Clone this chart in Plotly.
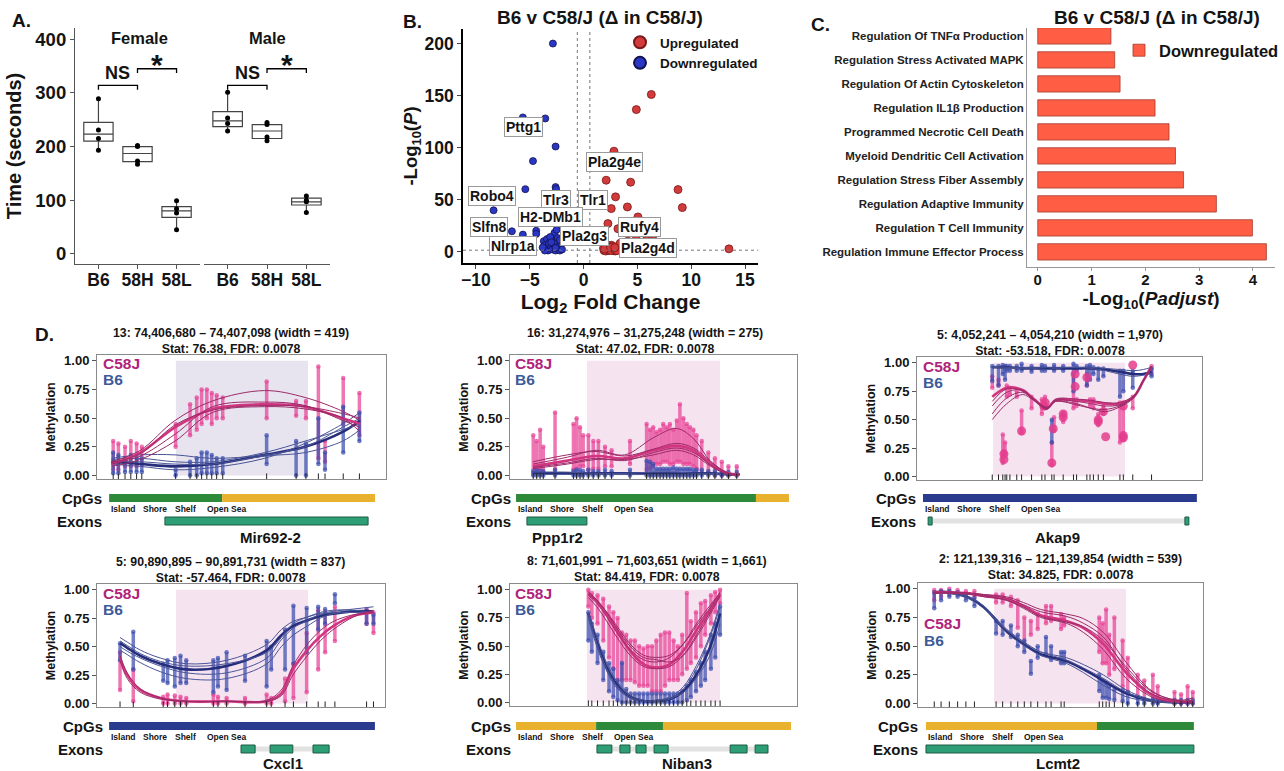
import plotly.graph_objects as go

W, H = 1284, 771
FONT = "Arial, 'Liberation Sans', Helvetica, sans-serif"
INK = "#141414"

# ---------------- Panel A : box plots ----------------
A_GROUPS = ["B6", "58H", "58L"]
A_F_Q1 = [210, 172, 68]
A_F_MED = [223, 187, 80]
A_F_Q3 = [245, 200, 88]
A_F_LO = [193, 167, 45]
A_F_HI = [289, 202, 99]
A_F_PTS = [[193, 215, 231, 289], [167, 173, 200, 202], [45, 76, 84, 99]]
A_M_Q1 = [237, 215, 91]
A_M_MED = [248, 229, 97]
A_M_Q3 = [265, 241, 104]
A_M_LO = [229, 211, 77]
A_M_HI = [301, 245, 108]
A_M_PTS = [[229, 243, 253, 301], [211, 218, 241, 245], [77, 97, 100, 108]]
A_BR_FROM = [0, 1]
A_BR_TO = [1, 2]
A_BR_Y = [314, 345]
A_BR_LABEL = ["NS", "*"]

# ---------------- Panel B : volcano ----------------
B_UP_X = [6.29, 4.9, 2.82, 2.1, 4.37, 8.77, 2.97, 2.57, 4.07, 9.17, 5.05, 2.26, 3.19, 6.5, 4.9, 5.83, 13.5,
          1.9, 2.1, 2.3, 2.5, 2.7, 2.9, 3.05, 2.0, 2.2, 2.4, 2.6, 2.8, 3.0, 2.15, 2.45, 2.75, 2.95, 2.35, 2.65, 3.4, 4.1,
          1.85, 2.05, 2.25, 2.55, 2.85, 3.1, 1.95, 2.5, 2.9]
B_UP_Y = [151, 136.5, 96.5, 68.6, 66.7, 59.6, 52.6, 41.3, 42.9, 42.3, 33.3, 26.9, 22, 16.3, 12, 11, 2.6,
          1.0, 2.5, 4.0, 5.5, 3.0, 1.5, 4.5, 5.0, 1.0, 2.0, 6.0, 0.8, 2.8, 6.5, 3.5, 4.8, 0.6, 1.2, 2.2, 8.0, 10.0,
          3.2, 0.5, 1.8, 0.9, 2.0, 1.0, 2.4, 4.2, 3.8]
B_DOWN_X = [-2.85, -5.64, -3.56, -2.6, -4.7, -5.41, -2.6, -2.55, -8.36, -2.54, -6.66, -5.64, -4.4, -4.4, -2.7, -2.5,
            -3.7, -3.6, -3.5, -3.4, -3.3, -3.2, -3.0, -2.9, -2.8, -2.7, -2.6, -2.5, -2.4, -2.3, -2.2, -2.1,
            -2.0, -3.6, -3.1, -2.4, -2.2, -3.8, -3.0, -2.6]
B_DOWN_Y = [200, 129, 128, 101, 87, 60, 62, 60, 39.7, 42, 19.5, 16.3, 20, 17, 18, 21,
            10, 6, 3, 12, 1, 8, 4, 2, 11, 6, 1, 9, 3, 5, 1, 7,
            2, 1, 14, 13, 11, 4, 9, 3.5]
B_FC_CUT = 0.58
B_P_CUT = 1.3
B_LABELS = ["Pttg1", "Pla2g4e", "Robo4", "Tlr3", "Tlr1", "H2-DMb1", "Slfn8", "Rufy4", "Pla2g3", "Nlrp1a", "Pla2g4d"]
B_LABEL_X = [-5.58, 2.88, -8.5, -2.54, 0.87, -3.1, -8.8, 5.2, 0.1, -6.6, 6.0]
B_LABEL_Y = [119.5, 86, 53, 50, 50, 33, 23.7, 24, 15.4, 5.8, 3.5]

# ---------------- Panel C : enrichment bars ----------------
C_TERMS = ["Regulation Immune Effector Process", "Regulation T Cell Immunity", "Regulation Adaptive Immunity",
           "Regulation Stress Fiber Assembly", "Myeloid Dendritic Cell Activation", "Programmed Necrotic Cell Death",
           "Regulation IL1β Production", "Regulation Of Actin Cytoskeleton", "Regulation Stress Activated MAPK",
           "Regulation Of TNFα Production"]
C_VALUES = [4.25, 3.99, 3.32, 2.71, 2.56, 2.44, 2.18, 1.53, 1.43, 1.36]

# ---------------- Panel D : DMR methylation plots ----------------
D1_TITLE = "13: 74,406,680 – 74,407,098 (width = 419)<br>Stat: 76.38, FDR: 0.0078"
D1_SHADE = [27.3, 73.0]
D1_CPG = [5.6, 7.4, 9.7, 11.7, 13.7, 15.5, 27.2, 32.2, 34.5, 36.2, 38.0, 39.7, 41.4, 43.5, 58.7, 68.9, 72.3, 76.6, 78.9, 85.2, 90.8]
D1_C58_LO = [0.05, 0.05, 0.08, 0.08, 0.08, 0.10, 0.25, 0.35, 0.40, 0.45, 0.50, 0.45, 0.50, 0.50, 0.50, 0.52, 0.50, 0.15, 0.12, 0.45, 0.35]
D1_C58_HI = [0.30, 0.28, 0.25, 0.30, 0.28, 0.25, 0.45, 0.62, 0.68, 0.75, 0.75, 0.72, 0.70, 0.68, 0.82, 0.65, 0.65, 0.95, 0.30, 0.85, 0.72]
D1_B6_LO = [0.02, 0.02, 0.03, 0.03, 0.03, 0.03, 0.00, 0.00, 0.00, 0.02, 0.02, 0.02, 0.02, 0.02, 0.10, 0.00, 0.00, 0.10, 0.05, 0.20, 0.30]
D1_B6_HI = [0.20, 0.18, 0.15, 0.18, 0.15, 0.15, 0.05, 0.12, 0.15, 0.20, 0.20, 0.18, 0.15, 0.15, 0.35, 0.30, 0.28, 0.50, 0.20, 0.60, 0.55]
D1_KNOTS = [5, 15, 27, 40, 58, 72, 85, 91]
D1_C58_LINES = [[0.10, 0.20, 0.42, 0.58, 0.62, 0.60, 0.50, 0.45],
                [0.12, 0.22, 0.48, 0.65, 0.74, 0.68, 0.56, 0.48],
                [0.08, 0.14, 0.30, 0.55, 0.60, 0.58, 0.50, 0.38],
                [0.10, 0.17, 0.36, 0.60, 0.64, 0.61, 0.48, 0.42],
                [0.11, 0.19, 0.44, 0.57, 0.61, 0.60, 0.54, 0.50]]
D1_B6_LINES = [[0.12, 0.10, 0.08, 0.10, 0.18, 0.25, 0.38, 0.48],
               [0.15, 0.18, 0.18, 0.15, 0.18, 0.25, 0.42, 0.50],
               [0.10, 0.08, 0.05, 0.07, 0.15, 0.28, 0.45, 0.55],
               [0.12, 0.12, 0.10, 0.10, 0.17, 0.20, 0.30, 0.40],
               [0.14, 0.15, 0.12, 0.12, 0.20, 0.30, 0.40, 0.45]]
D1_CPG_TRACK = [(4.2, 43.3, "green"), (43.3, 96.2, "yellow")]
D1_EXONS = [(23.5, 93.8)]
D1_INTRON = None
D1_GENE = "Mir692-2"

D2_TITLE = "16: 31,274,976 – 31,275,248 (width = 275)<br>Stat: 47.02, FDR: 0.0078"
D2_SHADE = [26.8, 73.2]
D2_CPG = [8.1, 9.3, 10.5, 11.6, 15.7, 22.1, 23.2, 24.4, 25.5, 27.3, 29.0, 30.8, 33.1, 35.4, 41.8, 47.6, 48.8, 49.9, 51.1,
          52.3, 53.4, 54.6, 55.7, 56.9, 58.1, 59.2, 60.4, 61.6, 62.7, 63.9, 65.0, 66.8, 69.1, 71.4, 73.8, 76.1, 79.0]
D2_C58_LO = [0.02, 0.03, 0.05, 0.03, 0.05, 0.05, 0.06, 0.08, 0.08, 0.05, 0.06, 0.06, 0.08, 0.08, 0.10, 0.05, 0.06, 0.08, 0.10,
             0.10, 0.12, 0.12, 0.10, 0.10, 0.12, 0.12, 0.10, 0.10, 0.10, 0.08, 0.06, 0.04, 0.02, 0.00, 0.00, 0.00, 0.00]
D2_C58_HI = [0.35, 0.30, 0.40, 0.25, 0.55, 0.45, 0.50, 0.42, 0.35, 0.35, 0.30, 0.30, 0.25, 0.22, 0.30, 0.45, 0.40, 0.42, 0.38,
             0.40, 0.45, 0.42, 0.45, 0.40, 0.48, 0.62, 0.50, 0.45, 0.42, 0.40, 0.35, 0.30, 0.20, 0.15, 0.12, 0.08, 0.08]
D2_B6_LO = [0.0] * 37
D2_B6_HI = [0.04, 0.05, 0.04, 0.04, 0.05, 0.04, 0.05, 0.05, 0.04, 0.05, 0.04, 0.04, 0.05, 0.04, 0.05, 0.13, 0.12, 0.10, 0.06,
            0.06, 0.06, 0.06, 0.06, 0.07, 0.06, 0.06, 0.06, 0.06, 0.06, 0.05, 0.05, 0.05, 0.04, 0.04, 0.03, 0.03, 0.03]
D2_KNOTS = [8, 20, 30, 40, 50, 58, 64, 70, 76, 80]
D2_C58_LINES = [[0.08, 0.13, 0.17, 0.15, 0.22, 0.26, 0.22, 0.10, 0.02, 0.01],
                [0.10, 0.16, 0.22, 0.18, 0.33, 0.41, 0.32, 0.12, 0.02, 0.01],
                [0.06, 0.10, 0.14, 0.14, 0.18, 0.22, 0.18, 0.08, 0.01, 0.01],
                [0.12, 0.18, 0.21, 0.17, 0.23, 0.28, 0.24, 0.12, 0.02, 0.01],
                [0.07, 0.11, 0.15, 0.13, 0.20, 0.24, 0.20, 0.09, 0.01, 0.01]]
D2_B6_LINES = [[0.02, 0.02, 0.02, 0.02, 0.02, 0.02, 0.02, 0.02, 0.01, 0.01],
               [0.01, 0.01, 0.01, 0.01, 0.01, 0.01, 0.01, 0.01, 0.01, 0.01],
               [0.03, 0.03, 0.02, 0.02, 0.03, 0.03, 0.02, 0.02, 0.01, 0.01]]
D2_CPG_TRACK = [(2.1, 85.7, "green"), (85.7, 97.2, "yellow")]
D2_EXONS = [(5.9, 26.8)]
D2_INTRON = None
D2_GENE = "Ppp1r2"

D3_TITLE = "5: 4,052,241 – 4,054,210 (width = 1,970)<br>Stat: -53.518, FDR: 0.0078"
D3_SHADE = [26.7, 73.0]
D3_CPG = [26.4, 28.6, 30.1, 30.9, 31.5, 32.6, 35.0, 36.7, 40.2, 43.8, 44.9, 47.3, 48.1, 51.3, 54.9, 56.0, 59.6, 60.7, 61.9,
          63.6, 65.4, 71.2, 72.4, 75.7, 82.3]
D3_C58_LO = [0.78, 0.80, 0.12, 0.20, 0.70, 0.72, 0.70, 0.38, 0.60, 0.55, 0.60, 0.10, 0.40, 0.48, 0.60, 0.62, 0.80, 0.62, 0.60,
             0.45, 0.55, 0.30, 0.32, 0.60, 0.90]
D3_C58_HI = [0.88, 0.85, 0.37, 0.30, 0.80, 0.78, 0.75, 0.58, 0.70, 0.68, 0.70, 0.30, 0.52, 0.56, 0.90, 0.68, 0.90, 0.68, 0.68,
             0.55, 0.62, 0.65, 0.65, 0.70, 0.97]
D3_B6_LO = [0.84, 0.80, 0.90, 0.85, 0.93, 0.93, 0.93, 0.93, 0.92, 0.93, 0.93, 0.30, 0.93, 0.93, 0.75, 0.93, 0.80, 0.85, 0.90,
            0.85, 0.88, 0.70, 0.75, 0.78, 0.88]
D3_B6_HI = [0.97, 0.97, 0.98, 0.97, 0.97, 0.97, 0.97, 0.99, 0.97, 0.98, 0.97, 0.50, 0.98, 0.97, 0.99, 0.97, 0.97, 0.98, 0.96,
            0.95, 0.95, 0.93, 0.93, 0.93, 0.95]
D3_DOT_X = [30.5, 30.5, 36.7, 44.5, 45.0, 47.8, 51.3, 51.3, 55.5, 55.5, 59.6, 63.6, 63.6, 65.4, 66.2, 72.4, 72.4, 72.4, 75.7, 47.3]
D3_DOT_Y = [0.15, 0.20, 0.40, 0.62, 0.65, 0.42, 0.52, 0.55, 0.90, 0.79, 0.87, 0.48, 0.50, 0.57, 0.35, 0.62, 0.34, 0.36, 0.98, 0.12]
D3_KNOTS = [26.4, 31.5, 37, 41, 45.6, 48.6, 56, 61, 66, 71, 76, 79.4, 82.3]
D3_C58_LINES = [[0.70, 0.78, 0.76, 0.68, 0.60, 0.67, 0.67, 0.66, 0.64, 0.64, 0.70, 0.84, 0.97],
                [0.62, 0.74, 0.76, 0.68, 0.60, 0.67, 0.66, 0.64, 0.62, 0.63, 0.70, 0.84, 0.97],
                [0.55, 0.69, 0.74, 0.68, 0.60, 0.66, 0.64, 0.60, 0.57, 0.61, 0.69, 0.84, 0.97],
                [0.50, 0.64, 0.72, 0.67, 0.61, 0.66, 0.63, 0.60, 0.59, 0.62, 0.70, 0.85, 0.97],
                [0.66, 0.77, 0.75, 0.67, 0.59, 0.68, 0.68, 0.67, 0.65, 0.65, 0.71, 0.84, 0.96]]
D3_B6_LINES = [[0.96, 0.96, 0.95, 0.95, 0.95, 0.95, 0.95, 0.95, 0.94, 0.92, 0.90, 0.90, 0.92],
               [0.96, 0.95, 0.95, 0.95, 0.94, 0.95, 0.96, 0.95, 0.93, 0.90, 0.88, 0.89, 0.90],
               [0.97, 0.96, 0.96, 0.96, 0.96, 0.96, 0.96, 0.96, 0.95, 0.94, 0.93, 0.94, 0.96]]
D3_CPG_TRACK = [(2.1, 98.2, "blue")]
D3_EXONS = [(3.9, 5.3), (94.0, 95.4)]
D3_INTRON = (3.9, 95.4)
D3_GENE = "Akap9"

D4_TITLE = "5: 90,890,895 – 90,891,731 (width = 837)<br>Stat: -57.464, FDR: 0.0078"
D4_SHADE = [27.4, 73.3]
D4_CPG = [8.0, 12.6, 23.0, 24.5, 27.0, 29.0, 31.0, 40.4, 42.0, 45.0, 51.4, 58.9, 60.5, 65.3, 68.2, 72.8, 76.8, 79.2, 82.6, 93.6, 96.0]
D4_C58_LO = [0.12, 0.02, 0.0, 0.0, 0.0, 0.0, 0.0, 0.0, 0.0, 0.0, 0.0, 0.0, 0.0, 0.02, 0.05, 0.10, 0.30, 0.45, 0.55, 0.70, 0.62]
D4_C58_HI = [0.45, 0.30, 0.06, 0.08, 0.07, 0.06, 0.05, 0.08, 0.06, 0.05, 0.05, 0.08, 0.05, 0.22, 0.35, 0.62, 0.82, 0.80, 0.85, 0.83, 0.80]
D4_B6_LO = [0.38, 0.30, 0.20, 0.18, 0.15, 0.18, 0.18, 0.10, 0.15, 0.12, 0.20, 0.15, 0.30, 0.30, 0.35, 0.45, 0.65, 0.70, 0.88, 0.70, 0.70]
D4_B6_HI = [0.53, 0.63, 0.35, 0.38, 0.40, 0.42, 0.38, 0.38, 0.40, 0.45, 0.42, 0.55, 0.50, 0.65, 0.86, 0.84, 0.85, 0.83, 0.96, 0.82, 0.78]
D4_KNOTS = [8, 10.5, 15, 22, 31, 45, 59, 64, 68, 73, 77.5, 82, 89, 96]
D4_C58_LINES = [[0.40, 0.25, 0.12, 0.05, 0.02, 0.02, 0.02, 0.09, 0.30, 0.47, 0.59, 0.68, 0.77, 0.80],
                [0.38, 0.22, 0.10, 0.04, 0.02, 0.02, 0.03, 0.12, 0.33, 0.52, 0.64, 0.72, 0.78, 0.80],
                [0.42, 0.27, 0.13, 0.05, 0.02, 0.02, 0.02, 0.07, 0.25, 0.42, 0.55, 0.65, 0.76, 0.82]]
D4_B6_LINES = [[0.53, 0.49, 0.42, 0.35, 0.30, 0.33, 0.47, 0.60, 0.68, 0.73, 0.77, 0.79, 0.81, 0.81],
               [0.58, 0.54, 0.47, 0.40, 0.35, 0.38, 0.52, 0.65, 0.72, 0.76, 0.79, 0.81, 0.83, 0.85],
               [0.47, 0.43, 0.36, 0.28, 0.22, 0.22, 0.35, 0.50, 0.60, 0.68, 0.75, 0.79, 0.80, 0.80],
               [0.50, 0.46, 0.40, 0.33, 0.27, 0.27, 0.40, 0.56, 0.66, 0.73, 0.78, 0.80, 0.80, 0.79],
               [0.55, 0.51, 0.44, 0.37, 0.33, 0.35, 0.45, 0.58, 0.70, 0.76, 0.80, 0.82, 0.82, 0.80]]
D4_CPG_TRACK = [(4.2, 96.5, "blue")]
D4_EXONS = [(50.0, 54.9), (60.1, 68.0), (75.0, 80.6)]
D4_INTRON = (50.0, 80.6)
D4_GENE = "Cxcl1"

D5_TITLE = "8: 71,601,991 – 71,603,651 (width = 1,661)<br>Stat: 84.419, FDR: 0.0078"
D5_SHADE = [26.8, 73.2]
D5_CPG = [27.3, 28.5, 30.5, 32.5, 34.5, 36.0, 37.5, 39.0, 40.5, 42.0, 43.5, 45.0, 46.5, 48.0, 49.5, 51.0, 52.5, 54.0, 55.5,
          57.0, 58.5, 60.0, 61.6, 63.0, 64.8, 66.5, 68.0, 70.0, 71.5, 73.2]
D5_C58_LO = [0.85, 0.75, 0.70, 0.55, 0.40, 0.30, 0.15, 0.20, 0.20, 0.20, 0.18, 0.15, 0.15, 0.15, 0.10, 0.10, 0.10, 0.15, 0.20,
             0.20, 0.20, 0.25, 0.30, 0.35, 0.40, 0.50, 0.60, 0.70, 0.80, 0.88]
D5_C58_HI = [1.00, 0.97, 0.95, 0.92, 0.85, 0.80, 0.75, 0.62, 0.60, 0.55, 0.55, 0.50, 0.48, 0.50, 0.50, 0.55, 0.60, 0.62, 0.62,
             0.55, 0.50, 0.60, 0.97, 0.72, 0.80, 0.88, 0.90, 0.95, 0.98, 1.00]
D5_B6_LO = [0.55, 0.45, 0.35, 0.20, 0.10, 0.05, 0.02, 0.00, 0.00, 0.00, 0.00, 0.00, 0.00, 0.00, 0.00, 0.00, 0.00, 0.00, 0.00,
            0.00, 0.00, 0.00, 0.02, 0.05, 0.10, 0.15, 0.20, 0.30, 0.40, 0.60]
D5_B6_HI = [0.80, 0.70, 0.60, 0.45, 0.35, 0.30, 0.20, 0.35, 0.12, 0.08, 0.08, 0.08, 0.08, 0.08, 0.08, 0.08, 0.08, 0.08, 0.08,
            0.08, 0.08, 0.10, 0.15, 0.20, 0.27, 0.35, 0.45, 0.60, 0.70, 0.85]
D5_KNOTS = [27.3, 30.2, 33.7, 37.2, 41.8, 46.5, 51.1, 55.7, 60.4, 65, 69.7, 73.2]
D5_C58_LINES = [[0.97, 0.90, 0.78, 0.64, 0.46, 0.34, 0.31, 0.34, 0.46, 0.64, 0.82, 0.96],
                [0.95, 0.88, 0.76, 0.62, 0.47, 0.38, 0.36, 0.40, 0.52, 0.70, 0.86, 0.97],
                [0.98, 0.91, 0.80, 0.66, 0.50, 0.40, 0.38, 0.36, 0.42, 0.58, 0.78, 0.94],
                [0.93, 0.85, 0.72, 0.58, 0.42, 0.32, 0.30, 0.32, 0.42, 0.60, 0.80, 0.95],
                [0.96, 0.90, 0.80, 0.68, 0.52, 0.42, 0.40, 0.42, 0.52, 0.68, 0.84, 0.98]]
D5_B6_LINES = [[0.79, 0.55, 0.31, 0.16, 0.05, 0.015, 0.015, 0.03, 0.10, 0.25, 0.49, 0.79],
               [0.75, 0.50, 0.28, 0.13, 0.04, 0.01, 0.01, 0.03, 0.12, 0.30, 0.58, 0.85],
               [0.80, 0.58, 0.35, 0.19, 0.07, 0.02, 0.02, 0.04, 0.09, 0.22, 0.42, 0.70],
               [0.78, 0.53, 0.30, 0.15, 0.05, 0.01, 0.02, 0.05, 0.14, 0.33, 0.60, 0.88]]
D5_CPG_TRACK = [(2.1, 30.0, "yellow"), (30.0, 53.3, "green"), (53.3, 97.9, "yellow")]
D5_EXONS = [(30.3, 35.5), (38.3, 41.8), (43.9, 47.4), (50.2, 55.1), (76.7, 82.6), (85.4, 89.9)]
D5_INTRON = (30.3, 89.9)
D5_GENE = "Niban3"

D6_TITLE = "2: 121,139,316 – 121,139,854 (width = 539)<br>Stat: 34.825, FDR: 0.0078"
D6_SHADE = [26.7, 73.0]
D6_CPG = [5.7, 8.1, 11.0, 13.9, 16.8, 19.8, 27.4, 29.7, 32.6, 35.0, 37.3, 39.6, 42.0, 44.9, 46.7, 50.2, 51.3, 63.6, 64.8,
          66.0, 67.1, 68.9, 71.8, 73.6, 77.1, 79.4, 82.4, 84.1, 90.0, 92.3, 94.6, 96.4]
D6_C58_LO = [0.90, 0.93, 0.95, 0.95, 0.94, 0.93, 0.88, 0.88, 0.85, 0.66, 0.52, 0.60, 0.65, 0.70, 0.72, 0.65, 0.68, 0.45, 0.35,
             0.35, 0.25, 0.30, 0.15, 0.10, 0.05, 0.03, 0.02, 0.01, 0.0, 0.0, 0.0, 0.0]
D6_C58_HI = [0.99, 0.99, 1.00, 0.99, 0.98, 0.98, 0.95, 0.95, 0.93, 0.90, 0.75, 0.72, 0.78, 0.85, 0.85, 0.78, 0.75, 0.75, 0.70,
             0.82, 0.60, 0.75, 0.55, 0.40, 0.25, 0.20, 0.25, 0.15, 0.10, 0.08, 0.15, 0.10]
D6_B6_LO = [0.83, 0.90, 0.93, 0.93, 0.90, 0.85, 0.61, 0.60, 0.58, 0.50, 0.45, 0.26, 0.40, 0.43, 0.38, 0.35, 0.35, 0.11, 0.05,
            0.05, 0.04, 0.03, 0.02, 0.0, 0.0, 0.0, 0.0, 0.0, 0.0, 0.0, 0.0, 0.0]
D6_B6_HI = [0.97, 0.98, 0.98, 0.97, 0.95, 0.92, 0.72, 0.72, 0.68, 0.60, 0.55, 0.37, 0.50, 0.58, 0.50, 0.45, 0.45, 0.25, 0.20,
            0.18, 0.15, 0.12, 0.12, 0.10, 0.05, 0.04, 0.04, 0.03, 0.03, 0.03, 0.03, 0.03]
D6_KNOTS = [5.3, 11, 18, 23, 31, 37, 43, 52, 58, 65, 73, 81, 87, 93, 96.5]
D6_C58_LINES = [[0.97, 0.97, 0.96, 0.94, 0.91, 0.85, 0.77, 0.72, 0.66, 0.52, 0.27, 0.09, 0.03, 0.015, 0.015],
                [0.96, 0.97, 0.96, 0.95, 0.93, 0.88, 0.82, 0.78, 0.74, 0.62, 0.36, 0.13, 0.05, 0.02, 0.02],
                [0.97, 0.97, 0.96, 0.94, 0.90, 0.83, 0.75, 0.70, 0.62, 0.47, 0.22, 0.07, 0.02, 0.01, 0.01],
                [0.96, 0.96, 0.95, 0.93, 0.90, 0.84, 0.76, 0.71, 0.67, 0.55, 0.32, 0.12, 0.05, 0.03, 0.05],
                [0.97, 0.97, 0.96, 0.95, 0.92, 0.86, 0.80, 0.76, 0.70, 0.58, 0.30, 0.10, 0.04, 0.02, 0.03]]
D6_B6_LINES = [[0.97, 0.97, 0.92, 0.84, 0.63, 0.52, 0.43, 0.37, 0.30, 0.20, 0.09, 0.03, 0.015, 0.01, 0.01],
               [0.97, 0.96, 0.91, 0.83, 0.64, 0.53, 0.45, 0.40, 0.34, 0.25, 0.12, 0.04, 0.02, 0.01, 0.01],
               [0.96, 0.96, 0.92, 0.85, 0.65, 0.54, 0.45, 0.38, 0.31, 0.22, 0.10, 0.03, 0.02, 0.01, 0.01],
               [0.97, 0.97, 0.93, 0.85, 0.62, 0.51, 0.42, 0.35, 0.27, 0.16, 0.06, 0.02, 0.01, 0.01, 0.01]]
D6_CPG_TRACK = [(2.8, 62.8, "yellow"), (62.8, 96.8, "green")]
D6_EXONS = [(2.8, 96.8)]
D6_INTRON = None
D6_GENE = "Lcmt2"

Y_TICKS_D = [0, 0.25, 0.5, 0.75, 1.0]
Y_TICKTEXT_D = ["0.00", "0.25", "0.50", "0.75", "1.00"]
CPG_REGION_NAMES = ["Island", "Shore", "Shelf", "Open Sea"]

# ======================================================================
def fx(p):
    return p / W


def fy(p):
    return 1 - p / H


def fnt(size, bold=True, color=INK):
    return dict(family=FONT, size=size, color=color, weight="bold" if bold else "normal")


annotations, shapes = [], []


def text(t, x, y, size, bold=True, color=INK, xanchor="center", yanchor="middle", **kw):
    annotations.append(dict(text=t, x=fx(x), y=fy(y), xref="paper", yref="paper", showarrow=False,
                            xanchor=xanchor, yanchor=yanchor, font=fnt(size, bold, color), **kw))


fig = go.Figure()
layout = dict(width=W, height=H, margin=dict(l=0, r=0, t=0, b=0, autoexpand=False), paper_bgcolor="white",
              plot_bgcolor="white", font=dict(family=FONT, color=INK), hovermode=False)

# ---------------- Panel A ----------------
for ax, q1, med, q3, lo, hi, pts in [("x", A_F_Q1, A_F_MED, A_F_Q3, A_F_LO, A_F_HI, A_F_PTS),
                                     ("x2", A_M_Q1, A_M_MED, A_M_Q3, A_M_LO, A_M_HI, A_M_PTS)]:
    fig.add_trace(go.Box(x=A_GROUPS, q1=q1, median=med, q3=q3, lowerfence=lo, upperfence=hi,
                         xaxis=ax, yaxis="y", boxpoints=False, fillcolor="white", width=0.75,
                         line=dict(color="#444", width=1.2), whiskerwidth=0, showlegend=False))
    xs, ys = [], []
    for g, p in zip(A_GROUPS, pts):
        xs += [g] * len(p)
        ys += p
    fig.add_trace(go.Scatter(x=xs, y=ys, mode="markers", marker=dict(color="black", size=5),
                             xaxis=ax, yaxis="y", showlegend=False))
    for f, t, yb, lab in zip(A_BR_FROM, A_BR_TO, A_BR_Y, A_BR_LABEL):
        fig.add_trace(go.Scatter(x=[A_GROUPS[f], A_GROUPS[f], A_GROUPS[t], A_GROUPS[t]],
                                 y=[yb - 8, yb, yb, yb - 8], mode="lines",
                                 line=dict(color="black", width=1.3), xaxis=ax, yaxis="y", showlegend=False))
        big = lab == "*"
        annotations.append(dict(text=lab, x=(f + t) / 2, y=yb, xref=ax, yref="y", showarrow=False,
                                xanchor="center", yanchor="bottom", yshift=-14 if big else 0,
                                font=fnt(30 if big else 18)))

axA = dict(type="category", categoryorder="array", categoryarray=A_GROUPS, range=[-0.6, 2.6],
           showline=True, linecolor="#555", linewidth=1.2, ticks="outside", ticklen=4, tickcolor="#555",
           tickfont=fnt(17.5), showgrid=False, zeroline=False, anchor="y", ticklabelstandoff=-4)
layout["xaxis"] = dict(axA, domain=[fx(75), fx(200)])
layout["xaxis2"] = dict(axA, domain=[fx(204), fx(330)])
layout["yaxis"] = dict(domain=[fy(264), fy(28)], anchor="x", range=[-19, 421], tickvals=[0, 100, 200, 300, 400],
                       showline=True, linecolor="#555", linewidth=1.2, ticks="outside", ticklen=4,
                       tickcolor="#555", tickfont=fnt(18.5), showgrid=False, zeroline=False,
                       title=dict(text="Time (seconds)", font=fnt(20), standoff=8))
text("Female", 139, 38, 16.5)
text("Male", 267, 38, 16.5)
text("A.", 10, 20, 19, xanchor="left")

# ---------------- Panel B ----------------
fig.add_trace(go.Scatter(x=B_UP_X, y=B_UP_Y, mode="markers", name="Upregulated",
                         marker=dict(color="#D23B3B", size=8, line=dict(color="#7A1717", width=0.8)),
                         xaxis="x3", yaxis="y3", legend="legend"))
fig.add_trace(go.Scatter(x=B_DOWN_X, y=B_DOWN_Y, mode="markers", name="Downregulated",
                         marker=dict(color="#2A36C4", size=7, line=dict(color="#12124E", width=0.8)),
                         xaxis="x3", yaxis="y3", legend="legend"))
for xv in (-B_FC_CUT, B_FC_CUT):
    shapes.append(dict(type="line", xref="x3", yref="y3 domain", x0=xv, x1=xv, y0=0, y1=1,
                       line=dict(color="#777", width=1, dash="dot")))
shapes.append(dict(type="line", xref="x3 domain", yref="y3", x0=0, x1=1, y0=B_P_CUT, y1=B_P_CUT,
                   line=dict(color="#777", width=1, dash="dot")))
for lab, lx, ly in zip(B_LABELS, B_LABEL_X, B_LABEL_Y):
    annotations.append(dict(text=lab, x=lx, y=ly, xref="x3", yref="y3", showarrow=False,
                            font=fnt(14), bgcolor="white", bordercolor="#9a9a9a", borderwidth=1, borderpad=1))
layout["xaxis3"] = dict(domain=[fx(463), fx(758)], anchor="y3", range=[-11.2, 16.2],
                        tickvals=[-10, -5, 0, 5, 10, 15], showline=True, linecolor="black", linewidth=1.6,
                        ticks="outside", ticklen=4, tickfont=fnt(17.5), showgrid=False, zeroline=False,
                        ticklabelstandoff=-4,
                        title=dict(text="Log<sub>2</sub> Fold Change", font=fnt(21), standoff=0))
layout["yaxis3"] = dict(domain=[fy(263), fy(29)], anchor="x3", range=[-11, 214],
                        tickvals=[0, 50, 100, 150, 200], showline=True, linecolor="black", linewidth=1.6,
                        ticks="outside", ticklen=4, tickfont=fnt(17.5), showgrid=False, zeroline=False,
                        title=dict(text="-Log<sub>10</sub>(<i>P</i>)", font=fnt(18.5), standoff=2))
layout["legend"] = dict(x=fx(620), y=fy(27), xanchor="left", yanchor="top", font=fnt(13.5),
                        itemsizing="constant", bgcolor="rgba(0,0,0,0)", tracegroupgap=0)
text("B6 v C58/J (Δ in C58/J)", 600, 17, 19)
text("B.", 401, 21, 19, xanchor="left")

# ---------------- Panel C ----------------
fig.add_trace(go.Bar(y=C_TERMS, x=C_VALUES, orientation="h", name="Downregulated", width=0.68,
                     marker=dict(color="#FF5E45", line=dict(color="#A53A2C", width=0.8)),
                     xaxis="x4", yaxis="y4", legend="legend2"))
layout["xaxis4"] = dict(domain=[fx(1027), fx(1275)], anchor="y4", range=[-0.2, 4.41], tickvals=[0, 1, 2, 3, 4],
                        showline=True, linecolor="#999", linewidth=1, ticks="outside", ticklen=3,
                        tickcolor="#999", tickfont=fnt(15), showgrid=False, zeroline=False,
                        ticklabelstandoff=-4,
                        title=dict(text="-Log<sub>10</sub>(<i>Padjust</i>)", font=fnt(19), standoff=0))
layout["yaxis4"] = dict(domain=[fy(267), fy(28)], anchor="x4", type="category", categoryorder="array",
                        categoryarray=C_TERMS, range=[-0.63, 9.33], showline=True, linecolor="#999",
                        linewidth=1, ticks="", tickfont=fnt(11.5, color="#222"), showgrid=False, zeroline=False)
layout["legend2"] = dict(x=fx(1119), y=fy(33), xanchor="left", yanchor="top", font=fnt(16.5),
                         bgcolor="rgba(0,0,0,0)")
text("B6 v C58/J (Δ in C58/J)", 1157, 17, 19)
text("C.", 809, 25, 19, xanchor="left")

# ---------------- Panel D ----------------
D_DATA = [
    dict(title=D1_TITLE, shade=D1_SHADE, cpg=D1_CPG, clo=D1_C58_LO, chi=D1_C58_HI, blo=D1_B6_LO, bhi=D1_B6_HI,
         knots=D1_KNOTS, clines=D1_C58_LINES, blines=D1_B6_LINES, track=D1_CPG_TRACK, exons=D1_EXONS,
         intron=D1_INTRON, gene=D1_GENE),
    dict(title=D2_TITLE, shade=D2_SHADE, cpg=D2_CPG, clo=D2_C58_LO, chi=D2_C58_HI, blo=D2_B6_LO, bhi=D2_B6_HI,
         knots=D2_KNOTS, clines=D2_C58_LINES, blines=D2_B6_LINES, track=D2_CPG_TRACK, exons=D2_EXONS,
         intron=D2_INTRON, gene=D2_GENE),
    dict(title=D3_TITLE, shade=D3_SHADE, cpg=D3_CPG, clo=D3_C58_LO, chi=D3_C58_HI, blo=D3_B6_LO, bhi=D3_B6_HI,
         knots=D3_KNOTS, clines=D3_C58_LINES, blines=D3_B6_LINES, track=D3_CPG_TRACK, exons=D3_EXONS,
         intron=D3_INTRON, gene=D3_GENE, dots=(D3_DOT_X, D3_DOT_Y)),
    dict(title=D4_TITLE, shade=D4_SHADE, cpg=D4_CPG, clo=D4_C58_LO, chi=D4_C58_HI, blo=D4_B6_LO, bhi=D4_B6_HI,
         knots=D4_KNOTS, clines=D4_C58_LINES, blines=D4_B6_LINES, track=D4_CPG_TRACK, exons=D4_EXONS,
         intron=D4_INTRON, gene=D4_GENE),
    dict(title=D5_TITLE, shade=D5_SHADE, cpg=D5_CPG, clo=D5_C58_LO, chi=D5_C58_HI, blo=D5_B6_LO, bhi=D5_B6_HI,
         knots=D5_KNOTS, clines=D5_C58_LINES, blines=D5_B6_LINES, track=D5_CPG_TRACK, exons=D5_EXONS,
         intron=D5_INTRON, gene=D5_GENE),
    dict(title=D6_TITLE, shade=D6_SHADE, cpg=D6_CPG, clo=D6_C58_LO, chi=D6_C58_HI, blo=D6_B6_LO, bhi=D6_B6_HI,
         knots=D6_KNOTS, clines=D6_C58_LINES, blines=D6_B6_LINES, track=D6_CPG_TRACK, exons=D6_EXONS,
         intron=D6_INTRON, gene=D6_GENE),
]
# geometry (pixels)
D_GEOM = [
    dict(L=97, R=386, T=355, B=479, tx=231, ty=341, lx=101, ly1=363, ly2=379, gx=270, row=0, lab=104),
    dict(L=510, R=797, T=355, B=479, tx=645, ty=341, lx=513, ly1=363, ly2=379, gx=557, row=0, lab=513),
    dict(L=917, R=1202, T=357, B=480, tx=1050, ty=343, lx=921, ly1=366, ly2=382, gx=1057, row=0, lab=918),
    dict(L=97, R=385, T=584, B=707, tx=230, ty=570, lx=101, ly1=593, ly2=609, gx=283, row=1, lab=105),
    dict(L=510, R=797, T=584, B=706, tx=647, ty=569, lx=513, ly1=593, ly2=609, gx=687, row=1, lab=513),
    dict(L=918, R=1203, T=583, B=707, tx=1060, ty=567, lx=922, ly1=623, ly2=640, gx=1058, row=1, lab=920),
]
ROW_TRACK = [dict(cpg=(494, 502), small=509, exon=(517, 525), cpgl=498, exl=521, gene=537),
             dict(cpg=(722, 730), small=737, exon=(745, 753), cpgl=726, exl=749, gene=763)]
CPG_COL = {"green": "#2E8A3B", "yellow": "#E8B22E", "blue": "#2A3A8F"}
C58_PT, B6_PT = "rgba(232,66,150,0.72)", "rgba(60,78,175,0.72)"


def segs(xs, lo, hi):
    X, Y = [], []
    for x, a, b in zip(xs, lo, hi):
        X += [x, x, None]
        Y += [a, b, None]
    return X, Y


for i, (d, g) in enumerate(zip(D_DATA, D_GEOM)):
    n = i + 5
    xa, ya = f"x{n}", f"y{n}"
    layout[f"xaxis{n}"] = dict(domain=[fx(g["L"]), fx(g["R"])], anchor=ya, range=[0, 100], showticklabels=False,
                               ticks="", showline=True, mirror=True, linecolor="#8a8a8a", linewidth=1,
                               showgrid=False, zeroline=False)
    layout[f"yaxis{n}"] = dict(domain=[fy(g["B"]), fy(g["T"])], anchor=xa, range=[-0.03, 1.05],
                               tickvals=Y_TICKS_D, ticktext=Y_TICKTEXT_D, tickfont=fnt(13),
                               ticks="outside", ticklen=4, tickcolor="#555", showline=True, mirror=True,
                               linecolor="#8a8a8a", linewidth=1, showgrid=False, zeroline=False,
                               title=dict(text="Methylation", font=fnt(12.5), standoff=5))
    shapes.append(dict(type="rect", xref=xa, yref=ya, x0=d["shade"][0], x1=d["shade"][1], y0=0, y1=1,
                       fillcolor="#E7E3EF" if i == 0 else "#F6E3F0", line=dict(width=0), layer="below"))
    # point streaks
    X, Y = segs(d["cpg"], d["clo"], d["chi"])
    fig.add_trace(go.Scatter(x=X, y=Y, mode="lines+markers", line=dict(color=C58_PT, width=3.5),
                             marker=dict(color=C58_PT, size=4.5), xaxis=xa, yaxis=ya, showlegend=False))
    X, Y = segs(d["cpg"], d["blo"], d["bhi"])
    fig.add_trace(go.Scatter(x=X, y=Y, mode="lines+markers", line=dict(color=B6_PT, width=3.5),
                             marker=dict(color=B6_PT, size=4.5), xaxis=xa, yaxis=ya, showlegend=False))
    if "dots" in d:
        fig.add_trace(go.Scatter(x=d["dots"][0], y=d["dots"][1], mode="markers",
                                 marker=dict(color="rgba(228,60,140,0.85)", size=9), xaxis=xa, yaxis=ya,
                                 showlegend=False))
    # smoothed lines
    for k, yl in enumerate(d["blines"]):
        fig.add_trace(go.Scatter(x=d["knots"], y=yl, mode="lines", line_shape="spline",
                                 line=dict(color="#262E7C" if k == 0 else "#4A5597", width=2.6 if k == 0 else 1),
                                 xaxis=xa, yaxis=ya, showlegend=False))
    for k, yl in enumerate(d["clines"]):
        fig.add_trace(go.Scatter(x=d["knots"], y=yl, mode="lines", line_shape="spline",
                                 line=dict(color="#D2357F" if k == 0 else "#9C2B69", width=2.6 if k == 0 else 1),
                                 xaxis=xa, yaxis=ya, showlegend=False))
    # rug
    fig.add_trace(go.Scatter(x=d["cpg"], y=[-0.012] * len(d["cpg"]), mode="markers",
                             marker=dict(symbol="line-ns", size=5, line=dict(width=1, color="#222")),
                             xaxis=xa, yaxis=ya, showlegend=False))
    # titles and labels
    text(d["title"], g["tx"], g["ty"], 12.3)
    text("C58J", g["lx"], g["ly1"], 15.5, bold=True, color="#B0237A", xanchor="left")
    text("B6", g["lx"], g["ly2"], 15.5, bold=True, color="#3D5A98", xanchor="left")
    # tracks
    rt = ROW_TRACK[g["row"]]
    for s, e, c in d["track"]:
        shapes.append(dict(type="rect", xref=xa, yref="paper", x0=s, x1=e, y0=fy(rt["cpg"][1]), y1=fy(rt["cpg"][0]),
                           fillcolor=CPG_COL[c], line=dict(width=0)))
    if d["intron"]:
        shapes.append(dict(type="rect", xref=xa, yref="paper", x0=d["intron"][0], x1=d["intron"][1],
                           y0=fy(rt["exon"][1] - 1.5), y1=fy(rt["exon"][0] + 1.5), fillcolor="#E2E2E2",
                           line=dict(width=0)))
    for s, e in d["exons"]:
        shapes.append(dict(type="rect", xref=xa, yref="paper", x0=s, x1=e, y0=fy(rt["exon"][1]), y1=fy(rt["exon"][0]),
                           fillcolor="#2E9E76", line=dict(color="#1E5C45", width=1)))
    bar_start = g["L"] + d["track"][0][0] * (g["R"] - g["L"]) / 100
    for off, nm in zip([0, 32, 64, 96], CPG_REGION_NAMES):
        text(nm, bar_start + off, rt["small"], 8.5, xanchor="left")
    text("CpGs", g["lab"], rt["cpgl"], 15, xanchor="right")
    text("Exons", g["lab"], rt["exl"], 15, xanchor="right")
    text(d["gene"], g["gx"], rt["gene"], 15)

text("D.", 33, 334, 19, xanchor="left")

layout["annotations"] = annotations
layout["shapes"] = shapes
fig.update_layout(**layout)
fig.write_html("out.html", config={"displayModeBar": False},
               post_script="document.body.style.margin='0px';")
